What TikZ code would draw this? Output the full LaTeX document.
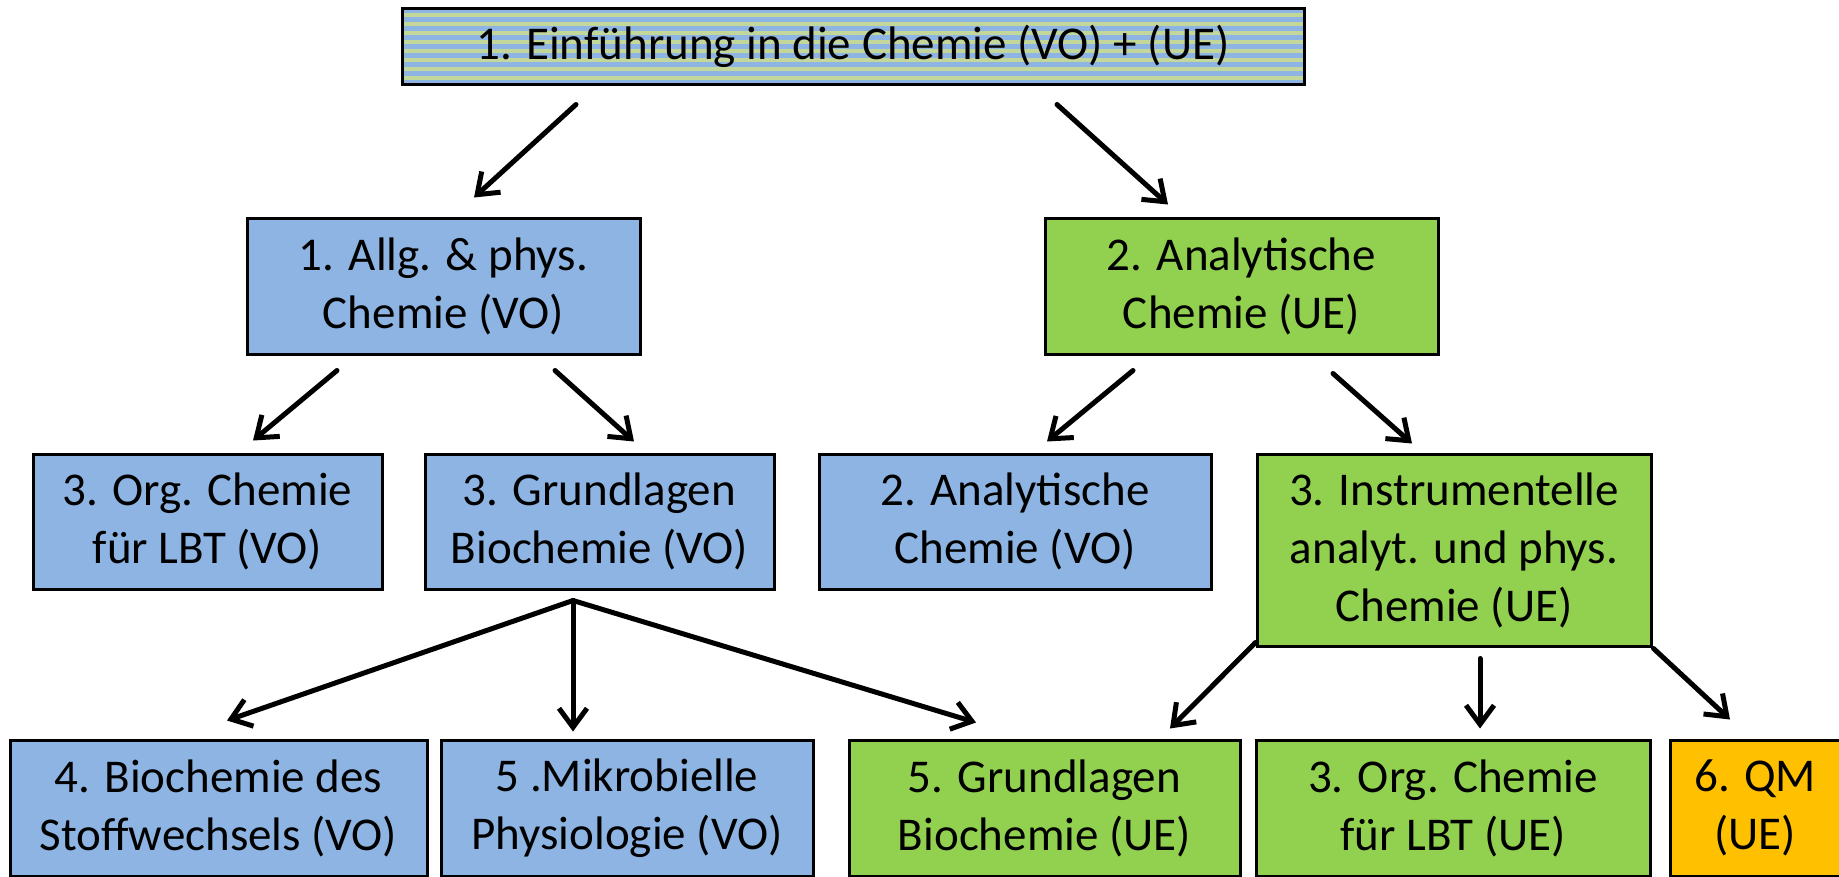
\documentclass[tikz,border=0pt]{standalone}
\usepackage{fontspec}
\setmainfont{Carlito}
\usepackage{xcolor}
\usetikzlibrary{arrows.meta,positioning}

\definecolor{boxblue}{HTML}{8DB4E2}
\definecolor{boxgreen}{HTML}{92D050}
\definecolor{boxorange}{HTML}{FFC000}
\definecolor{stripeblue}{HTML}{8EB4E3}
\definecolor{stripegreen}{HTML}{C4D79B}

\tikzset{
  course/.style={draw=black, line width=3pt, align=center, inner sep=0pt,
    font=\fontsize{47}{58}\selectfont},
  vo/.style={course, fill=boxblue},
  ue/.style={course, fill=boxgreen},
  qmbox/.style={course, fill=boxorange},
  arr/.style={line width=5pt, line cap=round, -{Straight Barb[length=19pt,width=28pt]}}
}

\begin{document}
\begin{tikzpicture}[x=1pt,y=-1pt]
\useasboundingbox (0,0) rectangle (1839,876);

% Einfuehrung (striped)
\begin{scope}
  \clip (402,8) rectangle (1304,84);
  \fill[stripegreen] (402,8) rectangle (1304,84);
  \foreach \y in {8,17,...,84} {
    \fill[stripeblue] (402,\y) rectangle (1304,\y+4.5);
  }
\end{scope}
\node[course, minimum width=902pt, minimum height=76pt] (einf) at (853,46)
  {1. Einführung in die Chemie (VO) + (UE)};

% second row
\node[vo, minimum width=393pt, minimum height=136pt] (allg) at (443.5,286)
  {1. Allg. \& phys.\\Chemie (VO)};
\node[ue, minimum width=393pt, minimum height=136pt] (anaUE) at (1241.5,286)
  {2. Analytische\\Chemie (UE)};

% third row
\node[vo, minimum width=349pt, minimum height=135pt] (orgVO) at (207.5,521.5)
  {3. Org. Chemie\\für LBT (VO)};
\node[vo, minimum width=349pt, minimum height=135pt] (grundVO) at (599.5,521.5)
  {3. Grundlagen\\Biochemie (VO)};
\node[vo, minimum width=392pt, minimum height=135pt] (anaVO) at (1015,521.5)
  {2. Analytische\\Chemie (VO)};
\node[ue, minimum width=394pt, minimum height=192pt] (instr) at (1454,550)
  {3. Instrumentelle\\analyt. und phys.\\Chemie (UE)};

% bottom row
\node[vo, minimum width=417pt, minimum height=136pt] (stoff) at (218.5,808)
  {4. Biochemie des\\Stoffwechsels (VO)};
\node[vo, minimum width=372pt, minimum height=136pt] (mikro) at (627,808)
  {5 .Mikrobielle\\Physiologie (VO)};
\node[ue, minimum width=391pt, minimum height=136pt] (grundUE) at (1044.5,808)
  {5. Grundlagen\\Biochemie (UE)};
\node[ue, minimum width=394pt, minimum height=136pt] (orgUE) at (1453,808)
  {3. Org. Chemie\\für LBT (UE)};
\node[qmbox, minimum width=170pt, minimum height=136pt] (qm) at (1755,808)
  {6. QM\\(UE)};

% arrows
\draw[arr] ([shift={(-277,19)}]einf.south) -- ([shift={(30.5,-19)}]allg.north);
\draw[arr] ([shift={(204,19)}]einf.south) -- ([shift={(-73.5,-12)}]anaUE.north);
\draw[arr] ([shift={(-106.5,15)}]allg.south) -- ([shift={(45.5,-12)}]orgVO.north);
\draw[arr] ([shift={(111.5,15)}]allg.south) -- ([shift={(34.5,-11)}]grundVO.north);
\draw[arr] ([shift={(-108.5,15)}]anaUE.south) -- ([shift={(32,-11)}]anaVO.north);
\draw[arr] ([shift={(91.5,18)}]anaUE.south) -- ([shift={(-42,-9)}]instr.north);

\coordinate (fork) at ([shift={(-26.5,10)}]grundVO.south);
\draw[arr] (fork) -- ([shift={(8.5,-18)}]stoff.north);
\draw[arr] (fork) -- ([shift={(-54,-7)}]mikro.north);
\draw[arr] (fork) -- ([shift={(-68.5,-16)}]grundUE.north);

\draw[arr] ([shift={(0,-5)}]instr.south west) -- ([shift={(125.5,-10)}]grundUE.north);
\draw[arr] ([shift={(26,11)}]instr.south) -- ([shift={(27,-10)}]orgUE.north);
\draw[arr] ([shift={(1,1)}]instr.south east) -- ([shift={(-25,-19)}]qm.north);
\end{tikzpicture}
\end{document}
